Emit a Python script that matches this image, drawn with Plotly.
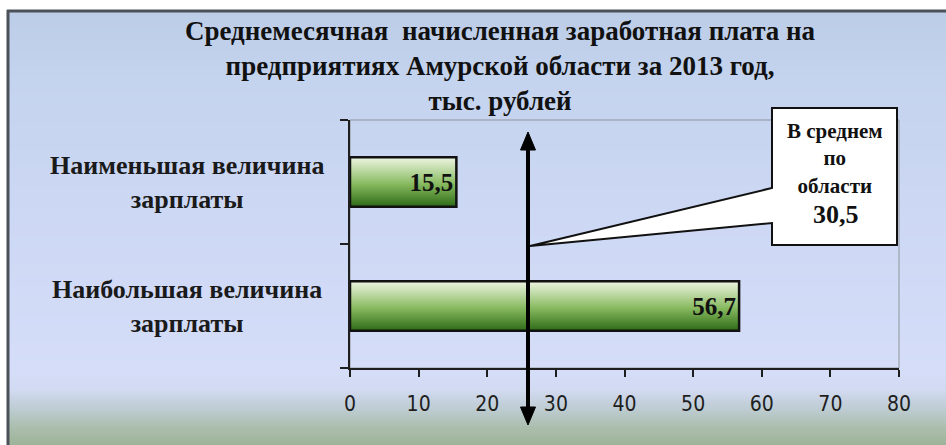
import base64, struct, zlib
import plotly.graph_objects as go

# ---------------- data ----------------
categories = ["Наибольшая величина<br>зарплаты", "Наименьшая величина<br>зарплаты"]
salary_values = [56.7, 15.5]
average_value = 30.5
x_tick_values = [0, 10, 20, 30, 40, 50, 60, 70, 80]
title_lines = [
    "Среднемесячная  начисленная заработная плата на",
    "предприятиях Амурской области за 2013 год,",
    "тыс. рублей",
]
callout_lines = ["В среднем", "по", "области"]

# ---------------- geometry helpers ----------------
W, H = 946, 445
ML, MR, MT, MB = 350, 47, 120, 77
PW, PH = W - ML - MR, H - MT - MB


def pxx(x):
    return (x - ML) / PW


def pxy(y):
    return (H - MB - y) / PH


def hex2rgb(h):
    h = h.lstrip("#")
    return tuple(int(h[i:i + 2], 16) for i in (0, 2, 4))


def gradient_png(stops, top, bottom):
    rows = []
    for yy in range(top, bottom):
        for i in range(len(stops) - 1):
            y0, c0 = stops[i]
            y1, c1 = stops[i + 1]
            if y0 <= yy <= y1:
                t = (yy - y0) / max(1, (y1 - y0))
                a, b = hex2rgb(c0), hex2rgb(c1)
                rows.append(tuple(int(round(a[k] + (b[k] - a[k]) * t)) for k in range(3)))
                break
        else:
            rows.append(hex2rgb(stops[-1][1]))
    w = 2
    raw = b"".join(b"\x00" + bytes(r) * w for r in rows)

    def chunk(tag, data):
        c = struct.pack(">I", len(data)) + tag + data
        return c + struct.pack(">I", zlib.crc32(tag + data) & 0xFFFFFFFF)

    png = b"\x89PNG\r\n\x1a\n"
    png += chunk(b"IHDR", struct.pack(">IIBBBBB", w, len(rows), 8, 2, 0, 0, 0))
    png += chunk(b"IDAT", zlib.compress(raw, 9))
    png += chunk(b"IEND", b"")
    return "data:image/png;base64," + base64.b64encode(png).decode()


bg_stops = [
    (10, "#bccde8"), (80, "#c4d3ee"), (220, "#cdd8f4"), (370, "#d5ddf8"),
    (388, "#d3dbf3"), (407, "#bfcdd5"), (427, "#abbead"), (445, "#9db398"),
]
bg_src = gradient_png(bg_stops, 10, 445)

serif = "Liberation Serif, Times New Roman, serif"
narrow = "Liberation Sans Narrow, DejaVu Sans Condensed, Arial Narrow, sans-serif"

positions = list(range(len(categories)))
bar_half = 0.2

fig = go.Figure()

# gradient fill of each bar (base subplot)
for pos, val in zip(positions, salary_values):
    fig.add_trace(go.Scatter(
        x=[0, val, val, 0, 0],
        y=[pos - bar_half, pos - bar_half, pos + bar_half, pos + bar_half, pos - bar_half],
        mode="lines", fill="toself", line=dict(width=0, color="rgba(0,0,0,0)"),
        fillgradient=dict(type="vertical",
                          colorscale=[[0, "#2d6a16"], [0.45, "#86b95e"], [1, "#eef6e2"]]),
        hoverinfo="skip", showlegend=False,
    ))

# bars (outline + value labels) on overlaying subplot
fig.add_trace(go.Bar(
    x=salary_values, y=positions, orientation="h", width=2 * bar_half,
    marker=dict(color="rgba(0,0,0,0)", line=dict(color="#111111", width=2.5)),
    texttemplate="%{x:.1f}", textposition="inside", insidetextanchor="end",
    textfont=dict(family=serif, size=25, color="#111111", weight="bold"),
    constraintext="none", xaxis="x2", yaxis="y2", showlegend=False,
    hovertemplate="%{x}<extra></extra>",
))

annotations = []
for pos, cat in zip(positions, categories):
    annotations.append(dict(
        x=pxx(187), xref="paper", y=pos, yref="y", text=cat, showarrow=False,
        xanchor="center", yanchor="middle", align="center",
        font=dict(family=serif, size=26, color="#1a1a1a", weight="bold"),
    ))

annotations.append(dict(
    x=pxx(835), xref="paper", xanchor="center", y=pxy(117), yref="paper", yanchor="top",
    text="<br>".join(callout_lines), showarrow=False, align="center",
    font=dict(family=serif, size=21, color="#111111", weight="bold"),
))
annotations.append(dict(
    x=pxx(836), xref="paper", xanchor="center", y=pxy(214), yref="paper", yanchor="middle",
    text=f"{average_value:.1f}".replace(".", ","), showarrow=False,
    font=dict(family=serif, size=26, color="#111111", weight="bold"),
))


def path(points):
    return "M " + " L ".join(f"{pxx(x):.5f},{pxy(y):.5f}" for x, y in points) + " Z"


shapes = [
    # outer frame (left & top)
    dict(type="line", xref="paper", yref="paper", x0=pxx(8), x1=pxx(8), y0=pxy(10), y1=pxy(446),
         line=dict(color="#4b5159", width=3)),
    dict(type="line", xref="paper", yref="paper", x0=pxx(7), x1=pxx(946), y0=pxy(11), y1=pxy(11),
         line=dict(color="#4b5159", width=3)),
    # plot area border
    dict(type="rect", xref="paper", yref="paper", x0=0, x1=1, y0=0, y1=1,
         line=dict(color="#8f959c", width=1), layer="below"),
    # callout
    dict(type="path", xref="paper", yref="paper",
         path=path([(772, 108), (897, 108), (897, 245), (772, 245), (772, 223), (530, 246), (772, 188)]),
         fillcolor="white", line=dict(color="#111111", width=2)),
    # vertical double arrow
    dict(type="line", xref="paper", yref="paper", x0=pxx(528), x1=pxx(528), y0=pxy(148), y1=pxy(410),
         line=dict(color="#000000", width=4)),
    dict(type="path", xref="paper", yref="paper",
         path=path([(528, 132), (535.5, 150), (520.5, 150)]), fillcolor="#000000",
         line=dict(color="#000000", width=1)),
    dict(type="path", xref="paper", yref="paper",
         path=path([(528, 425), (535.5, 407), (520.5, 407)]), fillcolor="#000000",
         line=dict(color="#000000", width=1)),
]

fig.update_layout(
    width=W, height=H,
    margin=dict(l=ML, r=MR, t=MT, b=MB),
    paper_bgcolor="white", plot_bgcolor="rgba(0,0,0,0)",
    separators=", ",
    title=dict(text="<br>".join(title_lines), x=500 / W, xanchor="center",
               y=(H - 40) / H, yanchor="top",
               font=dict(family=serif, size=27, color="#111111", weight="bold")),
    xaxis=dict(range=[0, 80], tickvals=x_tick_values, ticks="outside", ticklen=7, tickwidth=2,
               tickcolor="#1e1e1e", showline=True, linecolor="#1e1e1e", linewidth=2,
               showgrid=False, zeroline=False, ticklabelstandoff=9,
               tickfont=dict(family=narrow, size=21, color="#1e1e1e")),
    yaxis=dict(range=[-0.5, 1.5], tickvals=[-0.5, 0.5, 1.5], ticktext=["", "", ""],
               ticks="outside", ticklen=8, tickwidth=2, tickcolor="#1e1e1e",
               showline=True, linecolor="#1e1e1e", linewidth=2, showgrid=False, zeroline=False),
    xaxis2=dict(range=[0, 80], overlaying="x", visible=False),
    yaxis2=dict(range=[-0.5, 1.5], overlaying="y", visible=False),
    images=[dict(source=bg_src, xref="paper", yref="paper", x=pxx(8), y=pxy(10),
                 sizex=(W - 8) / PW, sizey=(H - 10) / PH, xanchor="left", yanchor="top",
                 sizing="stretch", layer="below")],
    shapes=shapes,
    annotations=annotations,
    showlegend=False,
)

fig.write_html("out.html", config={"displayModeBar": False},
               post_script="document.body.style.margin='0';document.body.style.overflow='hidden';")
